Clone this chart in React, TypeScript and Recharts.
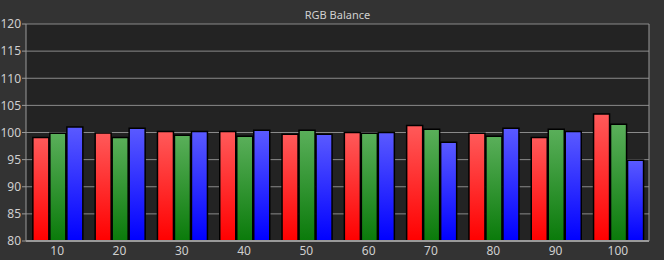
import React from "react";
import { BarChart, Bar, XAxis, YAxis, CartesianGrid } from "recharts";

const categories = ["10", "20", "30", "40", "50", "60", "70", "80", "90", "100"];
const redValues = [99.1, 99.9, 100.2, 100.2, 99.7, 100.0, 101.3, 99.85, 99.1, 103.4];
const greenValues = [99.85, 99.1, 99.5, 99.3, 100.4, 99.85, 100.6, 99.3, 100.6, 101.5];
const blueValues = [101.0, 100.8, 100.2, 100.4, 99.7, 100.0, 98.2, 100.8, 100.2, 94.9];
const yTicks = [80, 85, 90, 95, 100, 105, 110, 115, 120];
const boundaryTicks = [0, 1, 2, 3, 4, 5, 6, 7, 8, 9, 10];

const data = categories.map((c, i) => ({
  name: c,
  r: redValues[i],
  g: greenValues[i],
  b: blueValues[i],
}));

const font = "'Noto Sans', 'DejaVu Sans', sans-serif";
const tickStyle = { fill: "#cfcfcf", fontSize: 12, fontFamily: font };

export default function App() {
  return (
    <div style={{ position: "absolute", left: 0, top: 0, width: 664, height: 260, background: "#333333" }}>
      <div
        style={{
          position: "absolute",
          left: 26,
          width: 623,
          top: 7,
          textAlign: "center",
          color: "#d0d0d0",
          fontSize: 11,
          fontFamily: font,
        }}
      >
        RGB Balance
      </div>
      <BarChart
        width={664}
        height={260}
        data={data}
        margin={{ top: 24, right: 0, bottom: 0, left: 0 }}
        barCategoryGap="11%"
        barGap={1}
      >
        <defs>
          <linearGradient id="gr" x1="0" y1="0" x2="0" y2="1">
            <stop offset="0%" stopColor="#ff5a5a" />
            <stop offset="100%" stopColor="#ff0000" />
          </linearGradient>
          <linearGradient id="gg" x1="0" y1="0" x2="0" y2="1">
            <stop offset="0%" stopColor="#5aaf5a" />
            <stop offset="100%" stopColor="#0a7a0a" />
          </linearGradient>
          <linearGradient id="gb" x1="0" y1="0" x2="0" y2="1">
            <stop offset="0%" stopColor="#5a5aff" />
            <stop offset="100%" stopColor="#0000ff" />
          </linearGradient>
        </defs>
        <CartesianGrid vertical={false} stroke="#8a8a8a" fill="#232323" fillOpacity={1} />
        <XAxis
          xAxisId="bd"
          type="number"
          dataKey="idx"
          domain={[0, 10]}
          ticks={boundaryTicks}
          height={0}
          axisLine={false}
          tickLine={{ stroke: "#9a9a9a" }}
          tickSize={5}
          tickFormatter={() => ""}
          allowDataOverflow
        />
        <XAxis
          dataKey="name"
          height={19}
          axisLine={{ stroke: "#9a9a9a", strokeWidth: 2 }}
          tickLine={false}
          tick={{ ...tickStyle, dy: -2 }}
          tickMargin={1}
          interval={0}
        />
        <YAxis
          domain={[80, 120]}
          ticks={yTicks}
          width={26}
          axisLine={{ stroke: "#9a9a9a" }}
          tickLine={{ stroke: "#9a9a9a" }}
          tickSize={4}
          tick={tickStyle}
          tickMargin={1}
          allowDataOverflow
        />
        <YAxis
          yAxisId="right"
          orientation="right"
          domain={[80, 120]}
          width={15}
          axisLine={{ stroke: "#9a9a9a" }}
          tick={false}
          tickLine={false}
        />
        <Bar dataKey="r" fill="url(#gr)" stroke="#000" strokeWidth={1.5} isAnimationActive={false} />
        <Bar dataKey="g" fill="url(#gg)" stroke="#000" strokeWidth={1.5} isAnimationActive={false} />
        <Bar dataKey="b" fill="url(#gb)" stroke="#000" strokeWidth={1.5} isAnimationActive={false} />
      </BarChart>
    </div>
  );
}
